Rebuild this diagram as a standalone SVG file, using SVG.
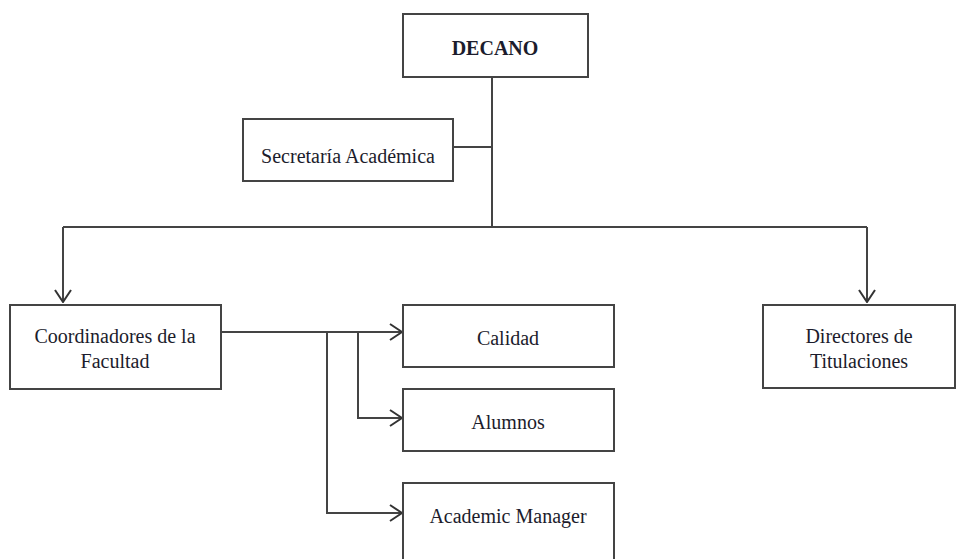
<svg xmlns="http://www.w3.org/2000/svg" width="960" height="559" viewBox="0 0 960 559">
<defs>
<marker id="arr" viewBox="0 0 14 18" refX="13" refY="9" markerWidth="14" markerHeight="18" markerUnits="userSpaceOnUse" orient="auto">
<path d="M1,1 L13,9 L1,17" fill="none" stroke="#333" stroke-width="2"/>
</marker>
<style>
.box{fill:#fff;stroke:#444;stroke-width:2}
.t{font-family:"Liberation Serif","Times New Roman",serif;font-size:20px;fill:#1c1c2c;text-anchor:middle}
.b{font-weight:bold}
.c{fill:none;stroke:#444;stroke-width:2}
</style>
</defs>
<rect width="960" height="559" fill="#fff"/>
<g id="connectors">
<path class="c" d="M492,77 V227"/>
<path class="c" d="M453,147 H492"/>
<path class="c" d="M63,227 H867"/>
<path class="c" d="M63,227 V302" marker-end="url(#arr)"/>
<path class="c" d="M867,227 V302" marker-end="url(#arr)"/>
<path class="c" d="M221,332 H402" marker-end="url(#arr)"/>
<path class="c" d="M358,332 V418 H402" marker-end="url(#arr)"/>
<path class="c" d="M327,332 V513 H402" marker-end="url(#arr)"/>
</g>
<g id="decano">
<rect class="box" x="403" y="14" width="185" height="63"/>
<text class="t b" x="495" y="55">DECANO</text>
</g>
<g id="secretaria">
<rect class="box" x="243" y="119" width="210" height="62"/>
<text class="t" x="348" y="163">Secretaría Académica</text>
</g>
<g id="coordinadores">
<rect class="box" x="10" y="305" width="211" height="84"/>
<text class="t" x="115" y="343">Coordinadores de la</text>
<text class="t" x="115" y="368">Facultad</text>
</g>
<g id="calidad">
<rect class="box" x="403" y="305" width="211" height="62"/>
<text class="t" x="508" y="345">Calidad</text>
</g>
<g id="alumnos">
<rect class="box" x="403" y="389" width="211" height="62"/>
<text class="t" x="508" y="429">Alumnos</text>
</g>
<g id="academic">
<rect class="box" x="403" y="483" width="211" height="90"/>
<text class="t" x="508" y="523">Academic Manager</text>
</g>
<g id="directores">
<rect class="box" x="763" y="305" width="192" height="83"/>
<text class="t" x="859" y="343">Directores de</text>
<text class="t" x="859" y="368">Titulaciones</text>
</g>
</svg>
